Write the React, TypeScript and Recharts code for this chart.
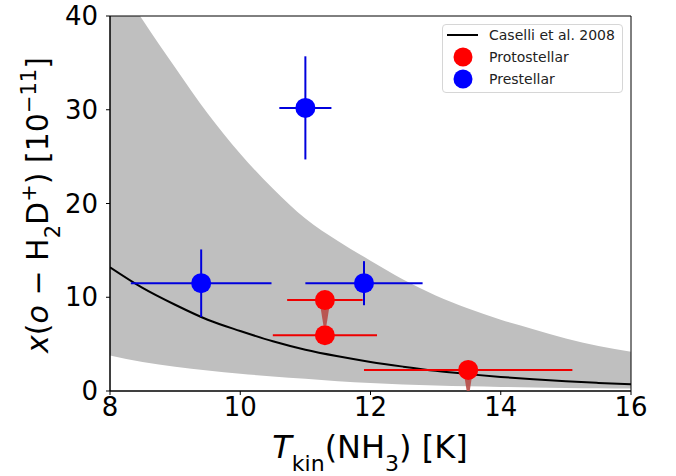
import {
  ComposedChart,
  Area,
  Line,
  Scatter,
  ErrorBar,
  XAxis,
  YAxis,
  ReferenceArea,
  Legend,
} from "recharts";

// curve samples
const curveT = [8, 8.5, 9, 9.5, 10, 10.5, 11, 11.5, 12, 12.5, 13, 13.5, 14, 14.5, 15, 15.5, 16];
const caselli = [13.2, 11.0, 9.2, 7.6, 6.4, 5.3, 4.4, 3.7, 3.1, 2.6, 2.15, 1.8, 1.5, 1.25, 1.03, 0.86, 0.72];
const bandLow = [3.8, 3.1, 2.6, 2.2, 1.85, 1.55, 1.3, 1.05, 0.85, 0.7, 0.58, 0.5, 0.43, 0.38, 0.33, 0.3, 0.27];
const bandHigh = [45, 39.6, 34.5, 29.6, 25.3, 21.6, 18.4, 16.0, 13.9, 11.9, 10.2, 8.8, 7.6, 6.6, 5.6, 4.8, 4.2];

const preT = [9.4, 11.0, 11.9];
const preX = [11.5, 30.2, 11.5];
const preTErr = [1.08, 0.4, 0.9];
const preXErr = [3.6, 5.5, 2.35];

const protoT = [11.3, 11.3, 13.5];
const protoX = [9.7, 5.95, 2.25];
const protoTErr = [0.58, 0.8, 1.6];

// upper-limit arrow tips
const limT = [11.3, 13.5];
const limTip = [7.0, 0];

const xTicks = [8, 10, 12, 14, 16];
const yTicks = [0, 10, 20, 30, 40];

const FONT = "DejaVu Sans";

const curveData = curveT.map((t, i) => ({
  t,
  caselli: caselli[i],
  band: [bandLow[i], bandHigh[i]],
}));

const preData = preT.map((t, i) => ({ t, v: preX[i], et: preTErr[i], ev: preXErr[i] }));
const protoData = protoT.map((t, i) => ({ t, v: protoX[i], et: protoTErr[i] }));
const limData = limT.map((t, i) => ({ t, v: limTip[i] }));

const dot = (color: string) => (p: any) =>
  <circle cx={p.cx} cy={p.cy} r={10} fill={color} />;

const arrowHead = (p: any) => (
  <polygon
    points={`${p.cx - 5},${p.cy - 22} ${p.cx + 5},${p.cy - 22} ${p.cx + 1.5},${p.cy} ${p.cx - 1.5},${p.cy}`}
    fill="#b84a46"
    fillOpacity={0.9}
  />
);

function LegendBox() {
  return (
    <div
      style={{
        width: 181,
        height: 69,
        border: "1px solid #d6d6d6",
        borderRadius: 4,
        background: "rgba(255,255,255,0.8)",
        boxSizing: "border-box",
      }}
    >
      <svg width={179} height={67} style={{ display: "block" }}>
        <line x1={4} y1={10} x2={35} y2={10} stroke="#000" strokeWidth={2} />
        <circle cx={20} cy={32} r={9.5} fill="#ff0000" />
        <circle cx={20} cy={54} r={9.5} fill="#0000ff" />
        <g fontFamily={FONT} fontSize={14} fill="#222">
          <text x={46} y={15}>Caselli et al. 2008</text>
          <text x={46} y={37}>Protostellar</text>
          <text x={46} y={59}>Prestellar</text>
        </g>
      </svg>
    </div>
  );
}

function YTitle() {
  return (
    <text
      x={48}
      y={205}
      transform="rotate(-90, 48, 205)"
      textAnchor="middle"
      fontFamily={FONT}
      fontSize={30}
      fill="#000"
    >
      <tspan fontStyle="italic">x</tspan>(<tspan fontStyle="italic">o</tspan> − H
      <tspan baselineShift="sub" fontSize={21}>2</tspan>D
      <tspan baselineShift="super" fontSize={21}>+</tspan>) [10
      <tspan baselineShift="super" fontSize={21}>−11</tspan>]
    </text>
  );
}

function XTitle() {
  return (
    <text x={370} y={458} textAnchor="middle" fontFamily={FONT} fontSize={32} fill="#000">
      <tspan fontStyle="italic">T</tspan>
      <tspan baselineShift="sub" fontSize={22}>kin</tspan>(NH
      <tspan baselineShift="sub" fontSize={22}>3</tspan>) [K]
    </text>
  );
}

export default function App() {
  return (
    <div style={{ position: "absolute", left: 0, top: 0, background: "#fff" }}>
      <ComposedChart
        width={676}
        height={476}
        data={curveData}
        margin={{ top: 16, right: 45, bottom: 0, left: 50 }}
      >
        <XAxis
          dataKey="t"
          type="number"
          domain={[8, 16]}
          ticks={xTicks}
          allowDataOverflow
          height={85}
          tickSize={4}
          tickMargin={3}
          stroke="#000"
          tick={{ fontSize: 26, fill: "#000", fontFamily: FONT }}
          label={{ content: () => <XTitle /> }}
        />
        <YAxis
          type="number"
          domain={[0, 40]}
          ticks={yTicks}
          allowDataOverflow
          width={60}
          tickSize={4}
          tickMargin={8}
          stroke="#000"
          tick={{ fontSize: 26, fill: "#000", fontFamily: FONT }}
          label={{ content: () => <YTitle /> }}
        />
        <Area
          dataKey="band"
          type="monotone"
          fill="#bfbfbf"
          fillOpacity={1}
          stroke="none"
          isAnimationActive={false}
          legendType="none"
        />
        <Line
          dataKey="caselli"
          type="monotone"
          stroke="#000"
          strokeWidth={2}
          dot={false}
          isAnimationActive={false}
        />
        <ReferenceArea x1={8} x2={16} y1={0} y2={40} fill="none" stroke="#000" strokeWidth={1} />
        <Scatter data={limData} dataKey="v" shape={arrowHead} isAnimationActive={false} />
        <Scatter data={protoData} dataKey="v" shape={dot("#ff0000")} isAnimationActive={false}>
          <ErrorBar dataKey="et" direction="x" width={0} stroke="#ee0000" strokeWidth={2} />
        </Scatter>
        <Scatter data={preData} dataKey="v" shape={dot("#0000ff")} isAnimationActive={false}>
          <ErrorBar dataKey="et" direction="x" width={0} stroke="#0000dd" strokeWidth={2} />
          <ErrorBar dataKey="ev" direction="y" width={0} stroke="#0000dd" strokeWidth={2} />
        </Scatter>
        <Legend
          layout="vertical"
          align="center"
          verticalAlign="middle"
          wrapperStyle={{ top: 24, left: 442, width: 181 }}
          content={() => <LegendBox />}
        />
      </ComposedChart>
    </div>
  );
}
